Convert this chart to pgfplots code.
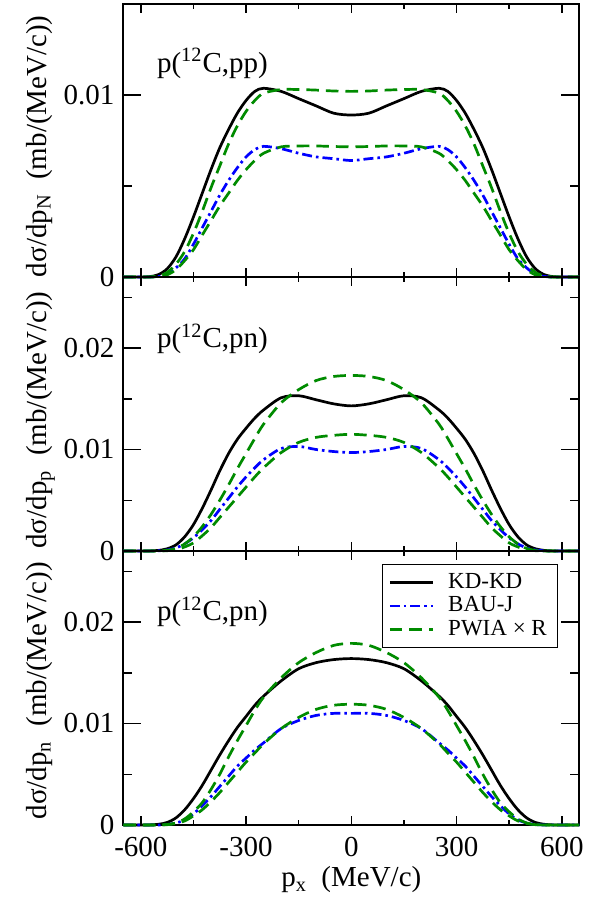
\documentclass[border=0pt]{standalone}
\usepackage{fontspec}
\setmainfont{Liberation Serif}
\usepackage{pgfplots}
\usepackage{pgfplotstable}
\pgfplotsset{compat=1.18}
\definecolor{gg}{RGB}{0,139,0}

% panel 1: p(12C,pp)
\pgfplotstableread{
p kd bau pwu pwl
-650 0 0 0 0
-600 0 0 0 0
-575 0.00002 0 0 0
-550 0.00013 0.00003 0.00006 0.00002
-525 0.00045 0.00015 0.00025 0.00012
-500 0.0011 0.0005 0.0007 0.0004
-475 0.0021 0.0010 0.0014 0.0009
-450 0.0033 0.0018 0.0024 0.0015
-425 0.0046 0.0027 0.0036 0.0023
-400 0.0059 0.0036 0.0049 0.0031
-375 0.0071 0.0045 0.0061 0.0039
-350 0.0081 0.0053 0.0073 0.0046
-325 0.0090 0.0060 0.0083 0.0053
-300 0.0097 0.0066 0.0091 0.0059
-275 0.0102 0.0070 0.0097 0.0064
-250 0.01037 0.00718 0.0101 0.0068
-200 0.0102 0.00705 0.0103 0.00715
-150 0.0098 0.0068 0.0103 0.0072
-100 0.0094 0.0066 0.01027 0.0072
-50 0.0090 0.0065 0.01022 0.00717
0 0.0089 0.0064 0.0102 0.00715
50 0.0090 0.0065 0.01022 0.00717
100 0.0094 0.0066 0.01027 0.0072
150 0.0098 0.0068 0.0103 0.0072
200 0.0102 0.00705 0.0103 0.00715
250 0.01037 0.00718 0.0101 0.0068
275 0.0102 0.0070 0.0097 0.0064
300 0.0097 0.0066 0.0091 0.0059
325 0.0090 0.0060 0.0083 0.0053
350 0.0081 0.0053 0.0073 0.0046
375 0.0071 0.0045 0.0061 0.0039
400 0.0059 0.0036 0.0049 0.0031
425 0.0046 0.0027 0.0036 0.0023
450 0.0033 0.0018 0.0024 0.0015
475 0.0021 0.0010 0.0014 0.0009
500 0.0011 0.0005 0.0007 0.0004
525 0.00045 0.00015 0.00025 0.00012
550 0.00013 0.00003 0.00006 0.00002
575 0.00002 0 0 0
600 0 0 0 0
650 0 0 0 0
}\tabA

% panel 2: p(12C,pn), dp_p
\pgfplotstableread{
p kd bau pwu pwl
-650 0 0 0 0
-600 0 0 0 0
-575 0.00001 0 0 0
-550 0.00006 0.00002 0 0
-525 0.00022 0.0001 0.00006 0.00003
-500 0.0006 0.0003 0.00025 0.00012
-475 0.0014 0.0007 0.0007 0.0004
-450 0.0026 0.0013 0.0014 0.0008
-425 0.0042 0.0021 0.0024 0.0015
-400 0.0060 0.0030 0.0036 0.0023
-375 0.0079 0.0041 0.0050 0.0033
-350 0.0096 0.0052 0.0065 0.0043
-325 0.0110 0.0063 0.0081 0.0053
-300 0.0121 0.0073 0.0096 0.0063
-275 0.0131 0.0082 0.0111 0.0073
-250 0.0139 0.0090 0.0125 0.0082
-200 0.0151 0.0101 0.0146 0.0097
-150 0.0153 0.0103 0.0159 0.0107
-100 0.0149 0.0100 0.0168 0.0112
-50 0.0145 0.0098 0.0172 0.0114
0 0.0143 0.0097 0.0173 0.0115
50 0.0145 0.0098 0.0172 0.0114
100 0.0149 0.0100 0.0168 0.0112
150 0.0153 0.0103 0.0159 0.0107
200 0.0151 0.0101 0.0146 0.0097
250 0.0139 0.0090 0.0125 0.0082
275 0.0131 0.0082 0.0111 0.0073
300 0.0121 0.0073 0.0096 0.0063
325 0.0110 0.0063 0.0081 0.0053
350 0.0096 0.0052 0.0065 0.0043
375 0.0079 0.0041 0.0050 0.0033
400 0.0060 0.0030 0.0036 0.0023
425 0.0042 0.0021 0.0024 0.0015
450 0.0026 0.0013 0.0014 0.0008
475 0.0014 0.0007 0.0007 0.0004
500 0.0006 0.0003 0.00025 0.00012
525 0.00022 0.0001 0.00006 0.00003
550 0.00006 0.00002 0 0
575 0.00001 0 0 0
600 0 0 0 0
650 0 0 0 0
}\tabB

% panel 3: p(12C,pn), dp_n
\pgfplotstableread{
p kd bau pwu pwl
-650 0 0 0 0
-600 0 0 0 0
-575 0.00001 0 0 0
-550 0.00007 0 0 0
-525 0.00025 0.00005 0.00005 0.00003
-500 0.0007 0.0002 0.0002 0.00015
-475 0.0015 0.0005 0.0006 0.0004
-450 0.0026 0.0011 0.0013 0.0009
-425 0.0039 0.0019 0.0022 0.0015
-400 0.0054 0.0028 0.0035 0.0023
-375 0.0069 0.0038 0.0050 0.0032
-350 0.0083 0.0048 0.0067 0.0042
-325 0.0096 0.0058 0.0083 0.0052
-300 0.0107 0.0066 0.0098 0.0062
-275 0.0118 0.0074 0.0113 0.0071
-250 0.0127 0.0081 0.0126 0.0080
-200 0.0142 0.0095 0.0145 0.0095
-150 0.0154 0.0103 0.0160 0.0106
-100 0.0160 0.0108 0.0170 0.0114
-50 0.0163 0.0110 0.0177 0.0118
0 0.0164 0.0110 0.0179 0.0119
50 0.0163 0.0110 0.0177 0.0118
100 0.0160 0.0108 0.0170 0.0114
150 0.0154 0.0103 0.0160 0.0106
200 0.0142 0.0095 0.0145 0.0095
250 0.0127 0.0081 0.0126 0.0080
275 0.0118 0.0074 0.0113 0.0071
300 0.0107 0.0066 0.0098 0.0062
325 0.0096 0.0058 0.0083 0.0052
350 0.0083 0.0048 0.0067 0.0042
375 0.0069 0.0038 0.0050 0.0032
400 0.0054 0.0028 0.0035 0.0023
425 0.0039 0.0019 0.0022 0.0015
450 0.0026 0.0011 0.0013 0.0009
475 0.0015 0.0005 0.0006 0.0004
500 0.0007 0.0002 0.0002 0.00015
525 0.00025 0.00005 0.00005 0.00003
550 0.00007 0 0 0
575 0.00001 0 0 0
600 0 0 0 0
650 0 0 0 0
}\tabC

\pgfplotsset{
  panel/.style={
    scale only axis, width=228pt,
    xmin=-650, xmax=650, ymin=0,
    scaled y ticks=false, scaled x ticks=false,
    xtick={-600,-300,0,300,600},
    minor xtick={-450,-150,150,450},
    tick align=inside, xtick pos=both, ytick pos=both,
    axis line style={line width=1pt},
    every tick/.append style={black, line width=0.75pt},
    major tick length=9pt, minor tick length=4.5pt,
    xtick style={/pgfplots/major tick length=4.5pt, /pgfplots/minor tick length=2.5pt},
    tick label style={font=\fontsize{14.5}{16}\selectfont},
    /pgf/number format/assume math mode=true,
    yticklabel style={inner xsep=4.2pt},
    xticklabels={},
    ylabel style={font=\fontsize{14.5}{16}\selectfont, anchor=base},
    clip=false,
    kd/.style={black, line width=1.35pt, smooth},
    bau/.style={blue, line width=1.35pt, smooth, dash pattern=on 5pt off 2pt on 1.3pt off 2pt},
    pw/.style={gg, line width=1.35pt, smooth, dash pattern=on 6.3pt off 3.5pt},
  },
}

\begin{document}
\begin{tikzpicture}
\begin{axis}[panel, name=a1, at={(0,0)}, anchor=north west, height=136.5pt,
  ymax=0.015, ytick={0,0.01}, yticklabels={0,0.01}, minor ytick={0.005},
  ylabel={dσ/dp\textsubscript{N}\enspace(mb/(MeV/c))},
  ylabel style={at={(rel axis cs:-0.1689,0.479)}}]
\addplot[kd] table[x=p,y=kd] {\tabA};
\addplot[bau] table[x=p,y=bau] {\tabA};
\addplot[pw] table[x=p,y=pwu] {\tabA};
\addplot[pw] table[x=p,y=pwl] {\tabA};
\node[anchor=base west, font=\fontsize{14.5}{16}\selectfont] at (rel axis cs:0.0586,0.7506) {p(\textsuperscript{12}C,pp)};
\end{axis}
\begin{axis}[panel, name=a2, at={(a1.south west)}, anchor=north west, height=137pt,
  ymax=0.027, ytick={0,0.01,0.02}, yticklabels={0,0.01,0.02}, minor ytick={0.005,0.015,0.025},
  ylabel={dσ/dp\textsubscript{p}\enspace(mb/(MeV/c))},
  ylabel style={at={(rel axis cs:-0.1689,0.478)}}]
\addplot[kd] table[x=p,y=kd] {\tabB};
\addplot[bau] table[x=p,y=bau] {\tabB};
\addplot[pw] table[x=p,y=pwu] {\tabB};
\addplot[pw] table[x=p,y=pwl] {\tabB};
\node[anchor=base west, font=\fontsize{14.5}{16}\selectfont] at (rel axis cs:0.0586,0.7426) {p(\textsuperscript{12}C,pn)};
\end{axis}
\begin{axis}[panel, name=a3, at={(a2.south west)}, anchor=north west, height=137pt,
  ymax=0.027, ytick={0,0.01,0.02}, yticklabels={0,0.01,0.02}, minor ytick={0.005,0.015,0.025},
  xticklabels={-600,-300,0,300,600},
  xticklabel style={anchor=base, yshift=-16pt},
  ylabel={dσ/dp\textsubscript{n}\enspace(mb/(MeV/c))},
  ylabel style={at={(rel axis cs:-0.1689,0.49)}},
  xlabel={p\textsubscript{x}\enspace(MeV/c)},
  xlabel style={at={(rel axis cs:0.5,-0.2252)}, anchor=base, font=\fontsize{14.5}{16}\selectfont},
  legend style={at={(rel axis cs:0.954,0.9526)}, anchor=north east, draw=black, line width=0.5pt,
    font=\fontsize{11.5}{13}\selectfont, legend cell align=left,
    inner xsep=3pt, inner ysep=2.9pt,
    nodes={inner xsep=2.5pt, inner ysep=0.4pt, text height=8.5pt, text depth=2.6pt},
    /tikz/every odd column/.append style={column sep=4.5pt}},
  legend image code/.code={\draw[#1] (0pt,0pt) -- (21.5pt,0pt);}]
\addplot[kd] table[x=p,y=kd] {\tabC};
\addlegendentry{KD-KD}
\addplot[bau] table[x=p,y=bau] {\tabC};
\addlegendentry{BAU-J}
\addplot[pw] table[x=p,y=pwu] {\tabC};
\addlegendentry{PWIA × R}
\addplot[pw, forget plot] table[x=p,y=pwl] {\tabC};
\node[anchor=base west, font=\fontsize{14.5}{16}\selectfont] at (rel axis cs:0.0586,0.7456) {p(\textsuperscript{12}C,pn)};
\end{axis}
\pgfresetboundingbox
\path (a1.north west) ++(-61.65pt,2pt) rectangle ++(300.5pt,-450.5pt);
\end{tikzpicture}
\end{document}
